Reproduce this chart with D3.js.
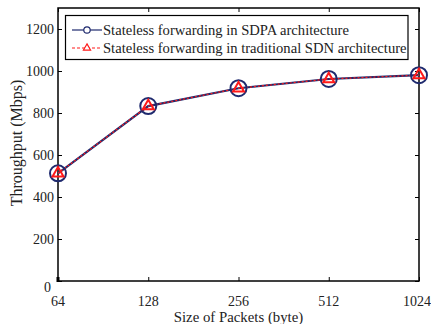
<!DOCTYPE html>
<html>
<head>
<meta charset="utf-8">
<script src="https://cdn.jsdelivr.net/npm/d3@7"></script>
<style>
  html, body { margin: 0; padding: 0; background: #fff; }
  svg { display: block; }
  text { font-family: "Liberation Serif", "Times New Roman", serif; fill: #222; }
</style>
</head>
<body>
<svg id="chart" width="431" height="324"></svg>
<script>
// Packet sizes (bytes) and measured throughput (Mbps)
const packetSizes = ["64", "128", "256", "512", "1024"];
const sdpaThroughput = [513, 833, 918, 962, 980];
const sdnThroughput = [513, 833, 918, 962, 980];
const yTicks = [0, 200, 400, 600, 800, 1000, 1200];
const seriesNames = [
  "Stateless forwarding in SDPA architecture",
  "Stateless forwarding in traditional SDN architecture"
];

const W = 431;
const svg = d3.select("#chart");
const plotLeft = 58, plotRight = 419, plotTop = 8, plotBottom = 281;

const x = d3.scalePoint().domain(packetSizes).range([plotLeft, plotRight]);
const y = d3.scaleLinear().domain([0, 1300]).range([plotBottom, plotTop]);

const navy = "#1f2a6e";
const red = "#ff1a1a";

// Axes box with inward ticks on all four sides
const axisG = svg.append("g");
const tickLen = 4;
function styleAxis(g) {
  g.select(".domain").remove();
  g.selectAll("line").attr("stroke", "#000").attr("stroke-width", 1);
}
axisG.append("g").attr("transform", `translate(0,${plotBottom})`)
  .call(d3.axisBottom(x).tickSizeInner(-tickLen).tickSizeOuter(0).tickFormat(""))
  .call(styleAxis);
axisG.append("g").attr("transform", `translate(0,${plotTop})`)
  .call(d3.axisTop(x).tickSizeInner(-tickLen).tickSizeOuter(0).tickFormat(""))
  .call(styleAxis);
axisG.append("g").attr("transform", `translate(${plotLeft},0)`)
  .call(d3.axisLeft(y).tickValues(yTicks).tickSizeInner(-tickLen).tickSizeOuter(0).tickFormat(""))
  .call(styleAxis);
axisG.append("g").attr("transform", `translate(${plotRight},0)`)
  .call(d3.axisRight(y).tickValues(yTicks).tickSizeInner(-tickLen).tickSizeOuter(0).tickFormat(""))
  .call(styleAxis);
axisG.append("rect")
  .attr("x", plotLeft).attr("y", plotTop)
  .attr("width", plotRight - plotLeft).attr("height", plotBottom - plotTop)
  .attr("fill", "none").attr("stroke", "#000").attr("stroke-width", 1.5);
axisG.append("rect")
  .attr("x", plotLeft - 1.5).attr("y", plotBottom - 4).attr("width", 3).attr("height", 5)
  .attr("fill", "#000");

// Tick labels
const labelSize = 14;
svg.append("g").selectAll("text").data(yTicks).join("text")
  .attr("x", d => d === 0 ? 51 : 54)
  .attr("y", d => d === 0 ? y(d) + 11 : y(d) + 5)
  .attr("text-anchor", "end")
  .attr("font-size", labelSize)
  .text(d => d);
svg.append("g").selectAll("text").data(packetSizes).join("text")
  .attr("x", d => x(d))
  .attr("y", 305.5)
  .attr("text-anchor", "middle")
  .attr("font-size", labelSize)
  .text(d => d)
  .each(function () {
    // keep the last label inside the canvas
    const b = this.getBBox();
    if (b.x + b.width > W) d3.select(this).attr("x", +d3.select(this).attr("x") - (b.x + b.width - W));
  });

// Axis titles
svg.append("text")
  .attr("transform", `translate(22,143) rotate(-90)`)
  .attr("text-anchor", "middle")
  .attr("font-size", 16)
  .text("Throughput (Mbps)");
svg.append("text")
  .attr("x", (plotLeft + plotRight) / 2)
  .attr("y", 321.5)
  .attr("text-anchor", "middle")
  .attr("font-size", 14.8)
  .text("Size of Packets (byte)");

// Series lines
const line = d3.line().x((d, i) => x(packetSizes[i])).y(d => y(d));
svg.append("path").datum(sdpaThroughput)
  .attr("d", line).attr("fill", "none")
  .attr("stroke", navy).attr("stroke-width", 2.2);
svg.append("path").datum(sdnThroughput)
  .attr("d", line).attr("fill", "none")
  .attr("stroke", red).attr("stroke-width", 1.2)
  .attr("stroke-dasharray", "2,2");

// Markers
const tri = d3.symbol().type(d3.symbolTriangle);
svg.append("g").selectAll("circle").data(sdpaThroughput).join("circle")
  .attr("cx", (d, i) => x(packetSizes[i]))
  .attr("cy", d => y(d))
  .attr("r", 8)
  .attr("fill", "none").attr("stroke", navy).attr("stroke-width", 2);
svg.append("g").selectAll("path").data(sdnThroughput).join("path")
  .attr("d", tri.size(52))
  .attr("transform", (d, i) => `translate(${x(packetSizes[i])},${y(d)})`)
  .attr("fill", "none").attr("stroke", red).attr("stroke-width", 2);

// Legend
const lg = svg.append("g");
lg.append("rect")
  .attr("x", 65.5).attr("y", 15.5).attr("width", 342.5).attr("height", 44)
  .attr("fill", "#fff").attr("stroke", "#000").attr("stroke-width", 1.2);
const rows = [30, 48];
lg.append("line").attr("x1", 72).attr("x2", 102).attr("y1", rows[0]).attr("y2", rows[0])
  .attr("stroke", navy).attr("stroke-width", 1.2);
lg.append("circle").attr("cx", 87).attr("cy", rows[0]).attr("r", 3.2)
  .attr("fill", "#fff").attr("stroke", navy).attr("stroke-width", 1.2);
lg.append("line").attr("x1", 72).attr("x2", 102).attr("y1", rows[1]).attr("y2", rows[1])
  .attr("stroke", red).attr("stroke-width", 1.2).attr("stroke-dasharray", "3,2");
lg.append("path").attr("d", tri.size(22))
  .attr("transform", `translate(87,${rows[1]})`)
  .attr("fill", "#fff").attr("stroke", red).attr("stroke-width", 1.2);
lg.selectAll("text.leg").data(seriesNames).join("text")
  .attr("class", "leg")
  .attr("x", 103).attr("y", (d, i) => rows[i] + 5)
  .attr("font-size", 14.6)
  .text(d => d);
</script>
</body>
</html>
